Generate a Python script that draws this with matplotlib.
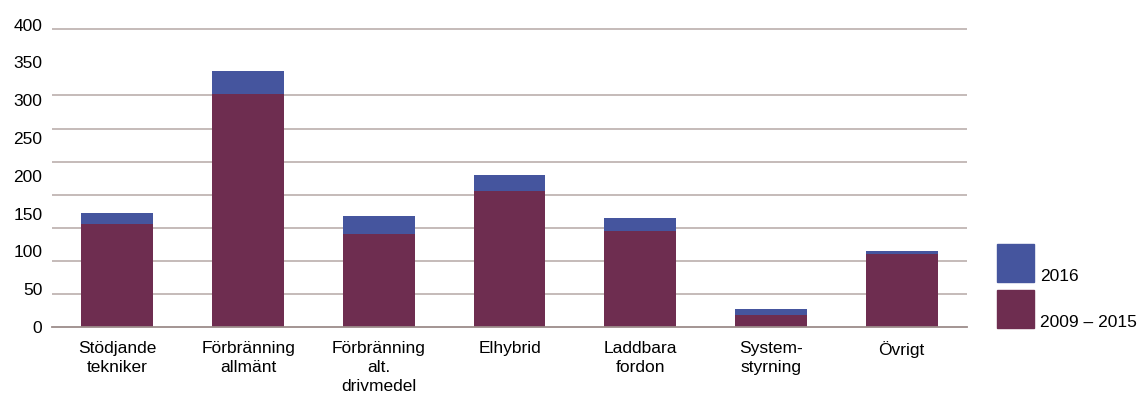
import numpy as np
import matplotlib
matplotlib.use("Agg")
import matplotlib.pyplot as plt
from matplotlib.patches import Rectangle
from matplotlib.ticker import MultipleLocator, FixedLocator

plt.rcParams['font.family'] = ['Liberation Sans', 'DejaVu Sans']

# Patent families per technology area
categories = ["Stödjande\ntekniker", "Förbränning\nallmänt", "Förbränning\nalt.\ndrivmedel",
              "Elhybrid", "Laddbara\nfordon", "System-\nstyrning", "Övrigt"]
period_2009_2015 = [136, 308, 123, 180, 127, 16, 97]
year_2016 = [15, 31, 24, 21, 17, 8, 4]
yticks = [0, 50, 100, 150, 200, 250, 300, 350, 400]
series_labels = ["2016", "2009 – 2015"]

c_old = "#6e2d50"
c_new = "#45559e"
grid_c = "#c0b5b3"
fs = 12.5

W, H = 1140, 394
fig = plt.figure(figsize=(W / 100, H / 100), dpi=100)
ax = fig.add_axes([52 / W, 67 / H, 915 / W, 310 / H])

x = np.arange(len(categories))
ax.bar(x, period_2009_2015, width=0.55, color=c_old, zorder=3)
ax.bar(x, year_2016, width=0.55, bottom=period_2009_2015, color=c_new, zorder=3)

ax.set_xlim(-0.5, len(categories) - 0.5)
ax.set_ylim(0, 410)
ax.yaxis.set_major_locator(FixedLocator(yticks))
ax.yaxis.set_minor_locator(MultipleLocator(43.75))
ax.grid(axis='y', which='minor', color=grid_c, linewidth=1.3, zorder=0)
ax.grid(axis='y', which='major', visible=False)
ax.tick_params(axis='y', which='both', length=0, labelsize=fs, pad=7)
ax.set_xticks(x)
ax.set_xticklabels(categories, fontsize=fs, linespacing=1.32)
ax.tick_params(axis='x', length=0, pad=10)

for s in ['top', 'right', 'left']:
    ax.spines[s].set_visible(False)
ax.spines['bottom'].set_color("#9c8c8a")
ax.spines['bottom'].set_linewidth(1.3)
ax.spines['bottom'].set_zorder(4)

# legend: colour square with the label sitting at its lower edge
for i, (lab, col) in enumerate(zip(series_labels, [c_new, c_old])):
    y0 = (H - 282 - i * 46) / H
    fig.add_artist(Rectangle((997 / W, y0), 37 / W, 38 / H, color=col,
                             transform=fig.transFigure))
    fig.text(1040 / W, y0 + 1 / H, lab, fontsize=fs, va='baseline', ha='left')

fig.savefig("out.png", dpi=100)
